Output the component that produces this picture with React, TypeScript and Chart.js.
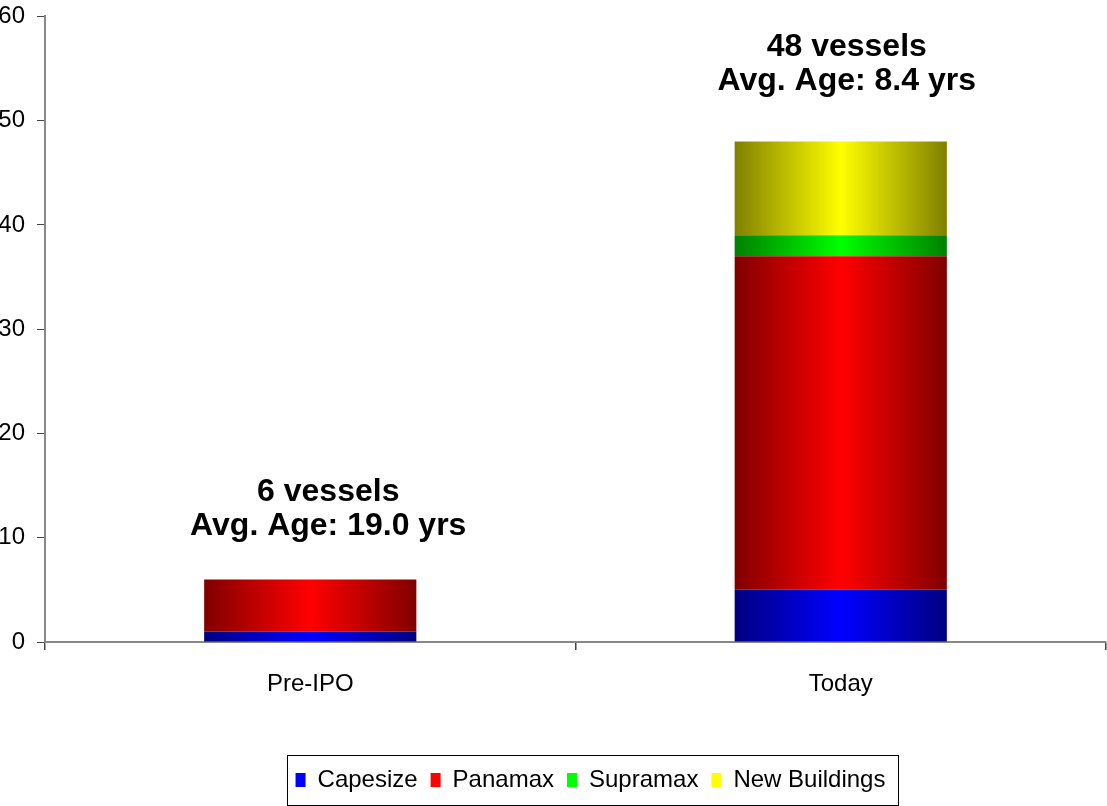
import { useEffect, useRef } from 'react';
import { Chart, registerables } from 'chart.js';

Chart.register(...registerables);

const FONT = '"Liberation Sans", Arial, Helvetica, sans-serif';

// ---- data ----
const categories = ['Pre-IPO', 'Today'];
const capesize = [1, 5];
const panamax = [5, 32];
const supramax = [0, 2];
const newBuildings = [0, 9];
const seriesNames = ['Capesize', 'Panamax', 'Supramax', 'New Buildings'];
const vesselLabels = ['6 vessels', '48 vessels'];
const ageLabels = ['Avg. Age: 19.0 yrs', 'Avg. Age: 8.4 yrs'];
const yMin = 0;
const yMax = 60;
const yStep = 10;

// ---- styles ----
const darkColors = ['#000080', '#800000', '#008000', '#808000'];
const brightColors = ['#0000FF', '#FF0000', '#00FF00', '#FFFF00'];
const BAR_FRACTION = 0.4;
const LABEL_DX = [18, 6];
const LABEL_GAP = [44, 52];
const LEGEND_SHIFT = 39;

const seriesValues = [capesize, panamax, supramax, newBuildings];

function makeBg(k: number) {
  return (ctx: any) => {
    const chart = ctx.chart;
    const xs = chart.scales && chart.scales.x;
    if (ctx.type !== 'data' || !xs || !chart.chartArea) return brightColors[k];
    const cx = xs.getPixelForValue(ctx.dataIndex);
    const w = (xs.width / categories.length) * BAR_FRACTION;
    const g = chart.ctx.createLinearGradient(cx - w / 2, 0, cx + w / 2, 0);
    g.addColorStop(0, darkColors[k]);
    g.addColorStop(0.5, brightColors[k]);
    g.addColorStop(1, darkColors[k]);
    return g;
  };
}

const barLabelsPlugin = {
  id: 'barLabels',
  afterDatasetsDraw(chart: any) {
    const x = chart.scales.x;
    const y = chart.scales.y;
    const ctx = chart.ctx;
    ctx.save();
    ctx.font = `bold 32px ${FONT}`;
    ctx.textAlign = 'center';
    ctx.textBaseline = 'alphabetic';
    ctx.fillStyle = '#000';
    categories.forEach((_, i) => {
      const total = seriesValues.reduce((s, arr) => s + arr[i], 0);
      const top = y.getPixelForValue(total);
      const cx = x.getPixelForValue(i) + LABEL_DX[i];
      const base2 = top - LABEL_GAP[i];
      ctx.fillText(ageLabels[i], cx, base2);
      ctx.fillText(vesselLabels[i], cx, base2 - 34);
    });
    ctx.restore();
  },
};

const legendFramePlugin = {
  id: 'legendFrame',
  afterLayout(chart: any) {
    const lg = chart.legend;
    if (lg) {
      lg.left += LEGEND_SHIFT;
      lg.right += LEGEND_SHIFT;
    }
  },
  afterDraw(chart: any) {
    const lg = chart.legend;
    if (!lg || !lg.lineWidths) return;
    const pad = lg.options.labels.padding;
    const lw = lg.lineWidths[0];
    const startX = (lg.left + pad + lg.right - lw) / 2;
    const endX = startX + lw - pad;
    const cy = lg.top + pad + 12;
    const ctx = chart.ctx;
    ctx.save();
    ctx.strokeStyle = '#000';
    ctx.lineWidth = 1;
    ctx.strokeRect(Math.round(startX - 9) + 0.5, Math.round(cy - 25) + 0.5, Math.round(endX - startX + 21), 50);
    ctx.restore();
  },
};

export default function App() {
  const ref = useRef<HTMLCanvasElement | null>(null);

  useEffect(() => {
    if (!ref.current) return;
    const chart = new Chart(ref.current, {
      type: 'bar',
      data: {
        labels: categories,
        datasets: seriesNames.map((name, k) => ({
          label: name,
          data: seriesValues[k],
          backgroundColor: makeBg(k),
          borderWidth: 0,
          categoryPercentage: 1,
          barPercentage: BAR_FRACTION,
        })),
      },
      options: {
        animation: false,
        responsive: true,
        maintainAspectRatio: false,
        events: [],
        layout: { padding: { top: 5, right: 1, bottom: 4, left: 0 } },
        scales: {
          x: {
            stacked: true,
            offset: true,
            grid: {
              offset: true,
              drawOnChartArea: false,
              drawTicks: true,
              tickLength: 8,
              color: '#444',
              lineWidth: 1.5,
            },
            border: { display: true, color: '#888', width: 2 },
            ticks: {
              color: '#000',
              font: { family: FONT, size: 24 },
              padding: 20,
            },
            afterFit: (s: any) => {
              s.height = 113;
            },
          },
          y: {
            stacked: true,
            min: yMin,
            max: yMax,
            grid: {
              drawOnChartArea: false,
              drawTicks: true,
              tickLength: 8,
              color: '#444',
              lineWidth: 1,
            },
            border: { display: true, color: '#888', width: 2 },
            ticks: {
              stepSize: yStep,
              color: '#000',
              font: { family: FONT, size: 24 },
              padding: 12,
            },
            afterFit: (s: any) => {
              s.width = 48;
            },
          },
        },
        plugins: {
          tooltip: { enabled: false },
          legend: {
            display: true,
            position: 'bottom',
            labels: {
              boxWidth: 10,
              boxHeight: 14,
              padding: 13,
              color: '#000',
              font: { family: FONT, size: 24 },
              generateLabels: () =>
                seriesNames.map((name, k) => ({
                  text: name,
                  fillStyle: brightColors[k],
                  strokeStyle: brightColors[k],
                  lineWidth: 0,
                  hidden: false,
                  datasetIndex: k,
                })),
            },
          },
        },
      },
      plugins: [barLabelsPlugin, legendFramePlugin],
    } as any);
    return () => chart.destroy();
  }, []);

  return (
    <div style={{ position: 'absolute', left: -3, top: -10, width: 1110, height: 816 }}>
      <canvas ref={ref} />
    </div>
  );
}
